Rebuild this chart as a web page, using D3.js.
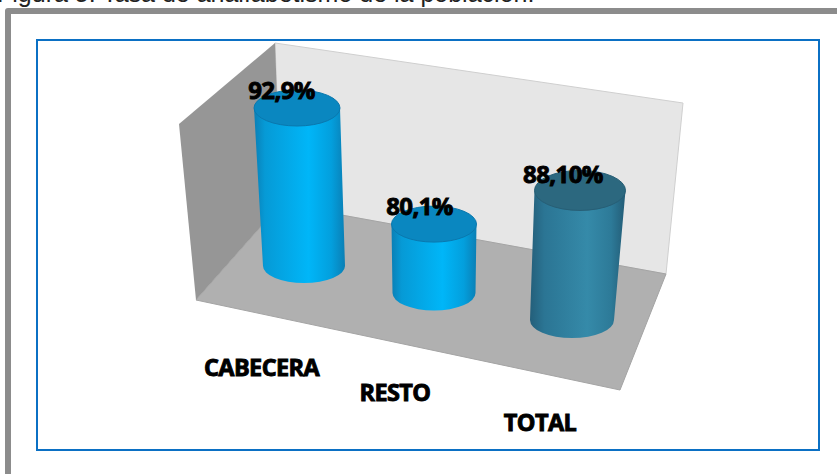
<!DOCTYPE html>
<html><head><meta charset="utf-8">
<script src="https://cdnjs.cloudflare.com/ajax/libs/d3/7.8.5/d3.min.js"></script>
<style>html,body{margin:0;padding:0;background:#fff;overflow:hidden}svg{display:block}</style>
</head><body><div id="c"></div>
<script>
const categories = ["CABECERA","RESTO","TOTAL"];
const values = [92.9,80.1,88.1];
const valueLabels = ["92,9%","80,1%","88,10%"];
const title = "Figura 5. Tasa de analfabetismo de la población.";

const W=837,H=474;
const svg=d3.select("#c").append("svg").attr("width",W).attr("height",H);
const defs=svg.append("defs");
function grad(id,stops){
  const g=defs.append("linearGradient").attr("id",id).attr("x1",0).attr("x2",1).attr("y1",0).attr("y2",0);
  stops.forEach(s=>g.append("stop").attr("offset",s[0]).attr("stop-color",s[1]));
}
grad("g0",[[0,"#0a7fb5"],[0.12,"#069ad6"],[0.6,"#00b6f8"],[0.85,"#039fdd"],[1,"#0a7fb5"]]);
grad("g1",[[0,"#245f7a"],[0.15,"#2b7594"],[0.6,"#358aa9"],[0.85,"#2d7a98"],[1,"#235c76"]]);

// title, cut by the top of the picture as in the reference
svg.append("text").attr("x",-3).attr("y",2).attr("font-family","Liberation Sans, Arial, sans-serif")
  .attr("font-size",25).attr("fill","#222").text(title);

// frames
svg.append("path").attr("d","M8 480V11H845").attr("fill","none").attr("stroke","#8c8c8c").attr("stroke-width",6)
  .attr("stroke-linejoin","round");
svg.append("rect").attr("x",37).attr("y",40).attr("width",782).attr("height",410)
  .attr("fill","#fff").attr("stroke","#0b70c4").attr("stroke-width",2);

// 3D box
const poly=(pts,fill,stroke)=>svg.append("polygon").attr("points",pts.join(" ")).attr("fill",fill)
  .attr("stroke",stroke||"none").attr("stroke-width",1);
const backWall=[[275,43],[683,103],[666,274],[281,204]];
const sideWall=[[179,124],[275,43],[281,204],[196,300]];
const floor=[[196,300],[281,204],[666,274],[620,390]];
poly(backWall,"#e6e6e6","#cfcfcf");
poly(sideWall,"#969696");
poly(floor,"#b0b0b0","#a4a4a4");

// scales (index along the category axis, foreshortened by the 3D view)
const idx=d3.scalePoint().domain(categories).range([0,2]);
const baseX=d3.scaleLinear().domain([0,1,2]).range([304,434,572]);
const baseY=d3.scaleLinear().domain([0,2]).range([266,320]);
const lean=d3.scaleLinear().domain([0,1,2]).range([-7,0,8]);
const persp=d3.scaleLinear().domain([0,1,2]).range([1,1,1.04]);
const rBase=d3.scaleLinear().domain([0,2]).range([41,42]);
const rTop=d3.scaleLinear().domain([0,1,2]).range([43,42.5,45.5]);
const ryBase=d3.scaleLinear().domain([0,2]).range([17,18]);
const ryTop=d3.scaleLinear().domain([0,1,2]).range([18,18,20]);
const h=d3.scaleLinear().domain([70.2,92.9]).range([0,158]);
const isTotal=i=>i===2;

svg.selectAll("g.cyl").data(categories).join("g").attr("class","cyl").each(function(c,k){
  const i=idx(c), v=values[k];
  const bx=baseX(i), by=baseY(i), tx=bx+lean(i), ty=by-h(v)*persp(i);
  const rb=rBase(i), rt=rTop(i), yb=ryBase(i), yt=ryTop(i);
  const sel=d3.select(this);
  sel.append("path").attr("d",`M${tx-rt} ${ty}L${bx-rb} ${by}A${rb} ${yb} 0 0 0 ${bx+rb} ${by}L${tx+rt} ${ty}Z`)
    .attr("fill",`url(#g${isTotal(i)?1:0})`);
  sel.append("ellipse").attr("cx",tx).attr("cy",ty).attr("rx",rt).attr("ry",yt)
    .attr("fill",isTotal(i)?"#2c687f":"#0a87c0").attr("stroke",isTotal(i)?"#275e75":"#0a78ae").attr("stroke-width",1);
});

// labels
const txt=(s,x,y,size)=>svg.append("text").attr("x",x).attr("y",y).attr("text-anchor","middle")
  .attr("font-family","Open Sans, Noto Sans, sans-serif").attr("font-weight",700).attr("font-size",size)
  .attr("stroke","#000").attr("stroke-width",0.9).attr("fill","#000").attr("letter-spacing",-0.6).text(s);
const labelX=d3.scaleLinear().domain([0,1,2]).range([281.5,419.5,563]);
const labelY=d3.scaleLinear().domain([0,1,2]).range([99,215,183]);
valueLabels.forEach((s,k)=>txt(s,labelX(k),labelY(k),24));

const catX=d3.scaleLinear().domain([0,1,2]).range([261.5,395,540]);
const catY=d3.scaleLinear().domain([0,1,2]).range([376,401,431]);
categories.forEach((s,k)=>txt(s,catX(k),catY(k),23.5));
</script></body></html>
